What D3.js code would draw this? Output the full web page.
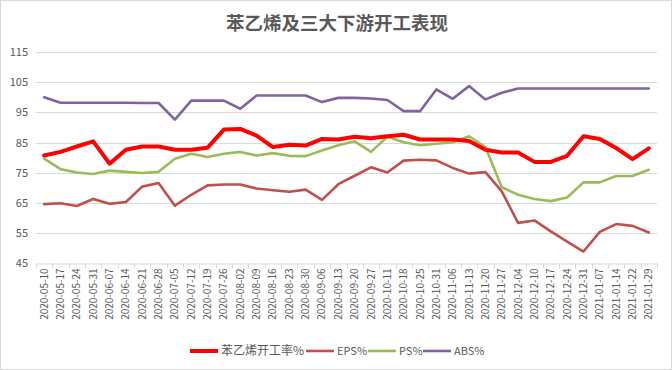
<!DOCTYPE html>
<html>
<head>
<meta charset="utf-8">
<script src="https://cdnjs.cloudflare.com/ajax/libs/d3/7.8.5/d3.min.js"></script>
<style>
  body { margin: 0; background: #fff; }
  svg { display: block; font-family: "Noto Sans CJK SC", "DejaVu Sans", sans-serif; }
</style>
</head>
<body>
<svg width="672" height="370"></svg>
<script>
var dates = ["2020-05-10","2020-05-17","2020-05-24","2020-05-31","2020-06-07","2020-06-14","2020-06-21","2020-06-28",
  "2020-07-05","2020-07-12","2020-07-19","2020-07-26","2020-08-02","2020-08-09","2020-08-16","2020-08-23","2020-08-30",
  "2020-09-06","2020-09-13","2020-09-20","2020-09-27","2020-10-11","2020-10-18","2020-10-25","2020-10-31","2020-11-06",
  "2020-11-13","2020-11-20","2020-11-27","2020-12-04","2020-12-10","2020-12-17","2020-12-24","2020-12-31","2021-01-07",
  "2021-01-14","2021-01-22","2021-01-29"];

var styrene = [80.7,81.9,83.7,85.4,78.0,82.6,83.7,83.7,82.6,82.6,83.3,89.3,89.5,87.3,83.5,84.3,84.0,86.2,86.0,86.9,86.4,87.1,87.6,86.0,86.0,86.0,85.5,82.6,81.7,81.7,78.6,78.6,80.6,87.1,86.2,83.2,79.5,83.1];
var eps = [64.6,64.9,64.0,66.3,64.7,65.3,70.4,71.6,64.1,67.7,70.8,71.1,71.1,69.8,69.2,68.7,69.4,66.0,71.2,74.0,76.8,75.1,79.0,79.3,79.1,76.6,74.7,75.2,68.8,58.4,59.2,55.6,52.2,48.9,55.4,58.0,57.4,55.2];
var ps = [79.7,76.2,75.1,74.6,75.7,75.3,74.9,75.3,79.6,81.3,80.2,81.3,81.9,80.7,81.5,80.6,80.5,82.4,84.1,85.4,81.9,86.9,85.1,84.1,84.6,85.1,87.1,83.5,70.2,67.7,66.3,65.6,66.8,71.8,71.8,73.9,73.9,76.0];
var abs = [100.0,98.2,98.2,98.2,98.2,98.2,98.1,98.1,92.6,98.9,98.9,98.9,96.2,100.6,100.6,100.6,100.6,98.4,99.8,99.8,99.6,99.1,95.4,95.4,102.6,99.5,103.7,99.3,101.5,102.9,102.9,102.9,102.9,102.9,102.9,102.9,102.9,102.9];

var yTicks = [45,55,65,75,85,95,105,115];
var seriesNames = ["苯乙烯开工率%","EPS%","PS%","ABS%"];
var seriesColors = ["#FF0000","#C0504D","#9BBB59","#8064A2"];
var seriesWidths = [4,2.6,2.6,2.6];
var seriesData = [styrene, eps, ps, abs];

var svg = d3.select("svg");
var W = 672, H = 370;

svg.append("rect").attr("x",0.5).attr("y",0.5).attr("width",W-1).attr("height",H-1)
  .attr("fill","#fff").attr("stroke","#d9d9d9");

svg.append("text").attr("x",337).attr("y",30).attr("text-anchor","middle")
  .attr("font-size",18.5).attr("font-weight","bold").attr("fill","#595959")
  .text("苯乙烯及三大下游开工表现");

var plotLeft = 36, plotRight = 657, plotTop = 52, plotBottom = 263.3;

var x = d3.scaleBand().domain(dates).range([plotLeft, plotRight]);
var y = d3.scaleLinear().domain([45,115]).range([plotBottom, plotTop]);

// grid
svg.append("g").selectAll("line").data(yTicks.filter(function(d){ return d > 45; })).join("line")
  .attr("x1", plotLeft).attr("x2", plotRight)
  .attr("y1", function(d){ return Math.round(y(d)) + 0.5; })
  .attr("y2", function(d){ return Math.round(y(d)) + 0.5; })
  .attr("stroke","#d9d9d9").attr("stroke-width",1);

// y labels
svg.append("g").selectAll("text").data(yTicks).join("text")
  .attr("x", 28).attr("y", function(d){ return y(d) + 4; })
  .attr("text-anchor","end").attr("font-size",11).attr("fill","#595959")
  .text(function(d){ return d; });

// x axis
var xAxis = d3.axisBottom(x).tickSize(0).tickPadding(0);
var gx = svg.append("g").attr("transform","translate(0," + (Math.round(plotBottom) + 0.5) + ")").call(xAxis);
gx.select(".domain").attr("stroke","#d9d9d9");
gx.selectAll(".tick text")
  .attr("transform","rotate(-90)")
  .attr("x", -5).attr("y", 0).attr("dy","0.35em")
  .attr("text-anchor","end")
  .attr("font-size",10).attr("fill","#595959")
  .attr("font-family","'Noto Sans CJK SC', 'DejaVu Sans', sans-serif");
// category separators
gx.append("g").selectAll("line").data(dates.concat(["_end"])).join("line")
  .attr("x1", function(d,i){ return Math.round(plotLeft + i * x.step()) + 0.5; })
  .attr("x2", function(d,i){ return Math.round(plotLeft + i * x.step()) + 0.5; })
  .attr("y1", 0).attr("y2", 5)
  .attr("stroke","#d9d9d9");

var line = d3.line()
  .x(function(d,i){ return x(dates[i]) + x.bandwidth()/2; })
  .y(function(d){ return y(d); });

// draw order: ABS, PS, EPS, red on top
[3,2,1,0].forEach(function(k){
  svg.append("path").datum(seriesData[k])
    .attr("d", line)
    .attr("fill","none")
    .attr("stroke", seriesColors[k])
    .attr("stroke-width", seriesWidths[k])
    .attr("stroke-linejoin","round")
    .attr("stroke-linecap","round");
});

// legend
var legendX = [190, 306, 368, 423];
var lg = svg.append("g");
seriesNames.forEach(function(name, k){
  var g = lg.append("g").attr("transform","translate(" + legendX[k] + ",351)");
  g.append("line").attr("x1",0).attr("x2",28).attr("y1",0).attr("y2",0)
    .attr("stroke", seriesColors[k]).attr("stroke-width", seriesWidths[k]);
  g.append("text").attr("x",31).attr("y",4)
    .attr("font-size", k === 0 ? 12 : 11).attr("fill","#595959")
    .text(name);
});
</script>
</body>
</html>
